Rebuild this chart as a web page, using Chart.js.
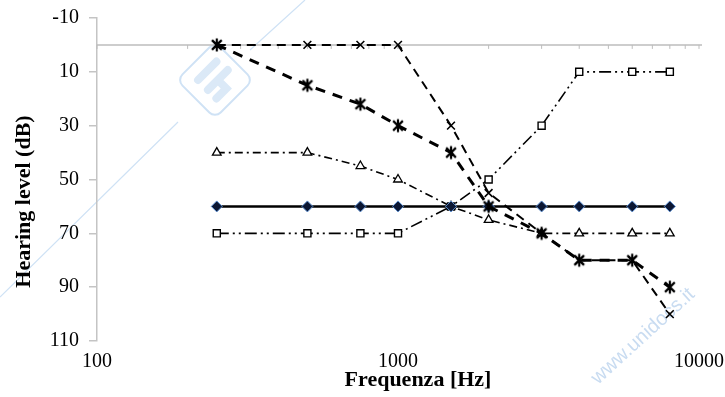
<!DOCTYPE html>
<html>
<head>
<meta charset="utf-8">
<script src="https://cdn.jsdelivr.net/npm/chart.js@4.4.1/dist/chart.umd.min.js"></script>
<style>
  html, body { margin: 0; padding: 0; background: #fff; }
  #wrap { width: 725px; height: 397px; position: relative; }
</style>
</head>
<body>
<div id="wrap"><canvas id="audiogramma"></canvas></div>
<script>
// frequenze (Hz) e soglie (dB HL) per ciascuna curva
const freq = [250, 500, 750, 1000, 1500, 2000, 3000, 4000, 6000, 8000];
const sogliaPiatta    = [60, 60, 60, 60, 60, 60, 60, 60, 60, 60];
const sogliaCroci     = [0, 0, 0, 0, 30, 55, 70, 80, 80, 100];
const sogliaStelle    = [0, 15, 22, 30, 40, 60, 70, 80, 80, 90];
const sogliaTriangoli = [40, 40, 45, 50, 60, 65, 70, 70, 70, 70];
const sogliaQuadrati  = [70, 70, 70, 70, 60, 50, 30, 10, 10, 10];
const xTicks = [100, 1000, 10000];
const yTicks = [-10, 10, 30, 50, 70, 90, 110];
const titoloX = 'Frequenza [Hz]';
const titoloY = 'Hearing level (dB)';

const punti = vals => freq.map((f, i) => ({ x: f, y: vals[i] }));

// marcatore a stella: croce diagonale + barra verticale
function stella(size, lw) {
  const c = document.createElement('canvas');
  c.width = c.height = size;
  const g = c.getContext('2d');
  const m = size / 2, r = size / 2 - 1.5, d = r * 0.75;
  g.strokeStyle = '#000';
  g.lineWidth = lw;
  g.beginPath();
  g.moveTo(m - d, m - d); g.lineTo(m + d, m + d);
  g.moveTo(m + d, m - d); g.lineTo(m - d, m + d);
  g.moveTo(m, m - r); g.lineTo(m, m + r);
  g.stroke();
  return c;
}

const SERIF = "'Liberation Serif', 'DejaVu Serif', serif";

// asse orizzontale a 0 dB con le tacche secondarie
const asseZero = {
  id: 'asseZero',
  beforeDatasetsDraw(chart) {
    const { ctx, chartArea: a, scales: { x, y } } = chart;
    const y0 = y.getPixelForValue(0);
    ctx.save();
    ctx.strokeStyle = '#bdbdbd';
    ctx.lineWidth = 1.5;
    ctx.beginPath();
    ctx.moveTo(a.left, y0); ctx.lineTo(a.right + 3, y0);
    ctx.stroke();
    ctx.lineWidth = 1;
    ctx.beginPath();
    for (let dec = 100; dec < 10000; dec *= 10) {
      for (let k = 1; k <= 10; k++) {
        const px = x.getPixelForValue(dec * k);
        ctx.moveTo(px, y0); ctx.lineTo(px, y0 + 4);
      }
    }
    ctx.stroke();
    ctx.restore();
  }
};

// titoli degli assi
const titoli = {
  id: 'titoli',
  afterDraw(chart) {
    const { ctx, chartArea: a } = chart;
    ctx.save();
    ctx.fillStyle = '#000';
    ctx.font = `bold 22px ${SERIF}`;
    ctx.textAlign = 'center';
    ctx.textBaseline = 'middle';
    ctx.fillText(titoloX, (a.left + a.right) / 2 + 20, 380);
    ctx.translate(24, (a.top + a.bottom) / 2 + 22);
    ctx.rotate(-Math.PI / 2);
    ctx.fillText(titoloY, 0, 0);
    ctx.restore();
  }
};

// filigrana azzurra
const filigrana = {
  id: 'filigrana',
  beforeDraw(chart) {
    const ctx = chart.ctx;
    ctx.save();
    ctx.strokeStyle = '#cfe2f5';
    ctx.lineWidth = 1.2;
    ctx.beginPath();
    ctx.moveTo(0, 297); ctx.lineTo(178, 122);
    ctx.moveTo(305, 0); ctx.lineTo(250, 50);
    ctx.stroke();

    ctx.translate(215, 80);
    ctx.rotate(Math.PI / 4);
    ctx.lineWidth = 2;
    ctx.beginPath();
    ctx.roundRect(-27, -27, 54, 54, 8);
    ctx.stroke();
    ctx.strokeStyle = '#dbe9f7';
    ctx.lineWidth = 8;
    ctx.lineCap = 'round';
    ctx.beginPath();
    ctx.moveTo(-12, -14); ctx.lineTo(-12, 12);
    ctx.moveTo(2, -16); ctx.lineTo(2, 12);
    ctx.moveTo(2, -2); ctx.lineTo(14, -2); ctx.lineTo(14, 12);
    ctx.stroke();
    ctx.restore();

    ctx.save();
    ctx.translate(598, 385);
    ctx.rotate(-0.74);
    ctx.fillStyle = '#c9dcf1';
    ctx.font = "20px 'Liberation Sans', sans-serif";
    ctx.fillText('www.unidocs.it', 0, 0);
    ctx.restore();
  }
};

new Chart(document.getElementById('audiogramma'), {
  type: 'line',
  data: {
    datasets: [
      {
        label: 'stelle',
        data: punti(sogliaStelle),
        borderColor: '#000',
        borderWidth: 3,
        borderDash: [10, 8],
        pointStyle: stella(16, 2.2),
        pointRadius: 8,
        tension: 0
      },
      {
        label: 'croci',
        data: punti(sogliaCroci),
        borderColor: '#000',
        borderWidth: 2,
        borderDash: [9, 6],
        pointStyle: 'crossRot',
        pointRadius: 5.5,
        pointBorderWidth: 1.6,
        pointBorderColor: '#000',
        tension: 0
      },
      {
        label: 'piatta',
        data: punti(sogliaPiatta),
        borderColor: '#000',
        borderWidth: 2.5,
        pointStyle: 'rectRot',
        pointRadius: 5.5,
        pointBackgroundColor: '#0c1733',
        pointBorderColor: '#5c8fd1',
        pointBorderWidth: 1,
        tension: 0
      },
      {
        label: 'triangoli',
        data: punti(sogliaTriangoli),
        borderColor: '#000',
        borderWidth: 1.6,
        borderDash: [8, 4, 2, 4],
        pointStyle: 'triangle',
        pointRadius: 5,
        pointBackgroundColor: '#fff',
        pointBorderColor: '#000',
        pointBorderWidth: 1.3,
        tension: 0
      },
      {
        label: 'quadrati',
        data: punti(sogliaQuadrati),
        borderColor: '#000',
        borderWidth: 1.6,
        borderDash: [12, 4, 2, 4, 2, 4],
        pointStyle: 'rect',
        pointRadius: 5,
        pointBackgroundColor: '#fff',
        pointBorderColor: '#000',
        pointBorderWidth: 1.4,
        tension: 0
      }
    ]
  },
  options: {
    responsive: true,
    maintainAspectRatio: false,
    animation: false,
    layout: { padding: { top: 18, right: 26, bottom: 0, left: 0 } },
    plugins: {
      legend: { display: false },
      tooltip: { enabled: false }
    },
    scales: {
      x: {
        type: 'logarithmic',
        min: 100,
        max: 10000,
        afterBuildTicks: s => { s.ticks = xTicks.map(v => ({ value: v })); },
        afterFit: s => { s.height = 56; s.paddingLeft = 0; s.paddingRight = 0; },
        ticks: {
          callback: v => String(v),
          font: { family: SERIF, size: 20 },
          color: '#000',
          padding: 1,
          maxRotation: 0,
          autoSkip: false
        },
        grid: { display: false },
        border: { display: false }
      },
      y: {
        type: 'linear',
        reverse: true,
        min: -10,
        max: 110,
        afterBuildTicks: s => { s.ticks = yTicks.map(v => ({ value: v })); },
        afterFit: s => { s.width = 97; s.paddingTop = 0; s.paddingBottom = 0; },
        ticks: {
          font: { family: SERIF, size: 20 },
          color: '#000',
          padding: 10
        },
        grid: {
          drawOnChartArea: false,
          drawTicks: true,
          tickLength: 8,
          color: '#c4c4c4',
          lineWidth: 1.5
        },
        border: { display: true, color: '#c4c4c4', width: 1.5 }
      }
    }
  },
  plugins: [filigrana, asseZero, titoli]
});
</script>
</body>
</html>
